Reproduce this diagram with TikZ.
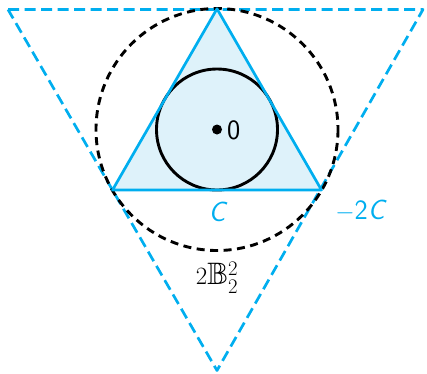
\documentclass[tikz,border=0pt]{standalone}
\usepackage{amssymb}
\begin{document}
\begin{tikzpicture}[x=1pt,y=-1pt,
  cy/.style={draw=cyanline,line width=2.7pt},
  cydash/.style={cy,dash pattern=on 11pt off 5.5pt},
  bkdash/.style={draw=black,line width=2.9pt,dash pattern=on 8pt off 5.5pt},
  lbl/.style={inner sep=0pt,font=\fontsize{28}{32}\selectfont\sffamily}]
\definecolor{cyanline}{RGB}{0,174,239}
\definecolor{cyanfill}{RGB}{222,242,250}
\useasboundingbox (0,0) rectangle (427,373);
\coordinate (O) at (217,129.5);
\coordinate (A) at (217,8.8);
\coordinate (B) at (112.5,190);
\coordinate (Cc) at (321.5,190);
\coordinate (P) at (8,9.5);
\coordinate (Q) at (423,9.5);
\coordinate (S) at (217,370.5);
% small triangle C
\fill[cyanfill] (A) -- (B) -- (Cc) -- cycle;
% big dashed triangle -2C
\draw[cydash,line join=round] (P) -- (Q) -- (S) -- cycle;
% dashed circle
\draw[bkdash] (O) circle[radius=121];
% inscribed circle
\draw[black,line width=2.9pt,fill=cyanfill] (O) circle[radius=60.5];
\draw[cy,line join=round] (A) -- (B) -- (Cc) -- cycle;
\fill (O) circle[radius=5];
\node[lbl,anchor=west] (zero) at (227,130) {0};
\node[lbl,text=cyanline] (lc) at (217,212) {\itshape C};
\node[lbl,text=cyanline] (lm) at (361,211) {$-$2\textit{C}};
\node[inner sep=0pt,font=\fontsize{31}{35}\selectfont] (ball) at (217,278) {$2\mathbb{B}_2^2$};
\end{tikzpicture}
\end{document}
